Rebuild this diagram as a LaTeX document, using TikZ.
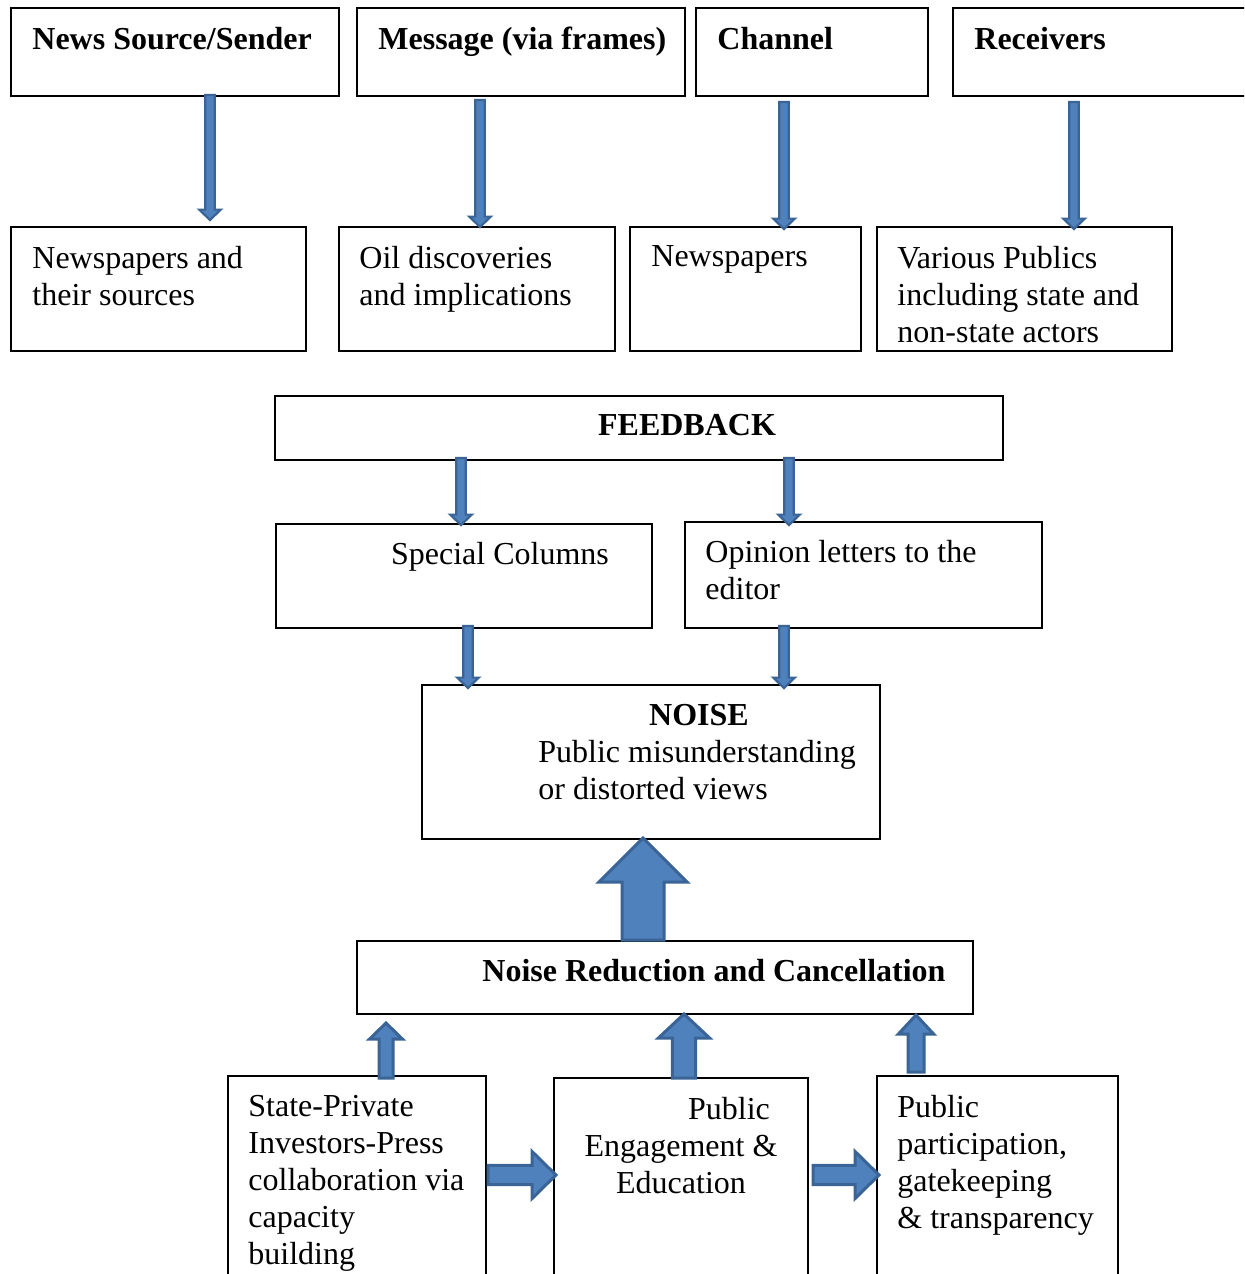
\documentclass[tikz,border=0pt]{standalone}
\usepackage{fontspec}
\setmainfont{Liberation Serif}
\usetikzlibrary{calc,fit}
\definecolor{arrfill}{HTML}{4F81BD}
\definecolor{arrdraw}{HTML}{3A6496}
% #1 extra style, #2 start coordinate, #3 tip coordinate, #4 half shaft, #5 half head, #6 head length
\newcommand{\blockarrow}[6][]{%
  \coordinate (bahead) at ($(#3)!#6!(#2)$);
  \draw[barrow,#1] ($(#2)!#4!90:(#3)$) -- ($(bahead)!#4!90:(#3)$) -- ($(bahead)!#5!90:(#3)$)
    -- (#3) -- ($(bahead)!#5!-90:(#3)$) -- ($(bahead)!#4!-90:(#3)$) -- ($(#2)!#4!-90:(#3)$) -- cycle;
}
\begin{document}
\begin{tikzpicture}[x=0.5pt,y=-0.5pt,
  box/.style={draw, line width=0.75pt, inner sep=0pt},
  txt/.style={inner sep=0pt, anchor=north west, align=left, font=\fontsize{16}{18.5}\selectfont},
  ctxt/.style={inner sep=0pt, anchor=north, align=center, font=\fontsize{16}{18.5}\selectfont},
  barrow/.style={fill=arrfill, draw=arrdraw, line width=1pt, line join=miter},
  thin/.style={line width=1.1pt},
  bigarrow/.style={line width=1.5pt}]
\useasboundingbox (0,0) rectangle (1244,1274);
\clip (0,0) rectangle (1244,1274);
\fill[white] (0,0) rectangle (1244,1274);

% top row
\node[box, fit={(11,8) (339,96)}] (src) {};
\node[box, fit={(357,8) (685,96)}] (msg) {};
\node[box, fit={(696,8) (928,96)}] (chan) {};
\node[box, fit={(953,8) (1260,96)}] (recv) {};
\node[txt, font=\fontsize{16}{18.5}\selectfont\bfseries] (srct) at (32,27) {News Source/Sender};
\node[txt, font=\fontsize{16}{18.5}\selectfont\bfseries] (msgt) at (378,27) {Message (via frames)};
\node[txt, font=\fontsize{16}{18.5}\selectfont\bfseries] (chant) at (717,27) {Channel};
\node[txt, font=\fontsize{16}{18.5}\selectfont\bfseries] (recvt) at (974,27) {Receivers};

% second row
\node[box, fit={(11,227) (306,351)}] (papers) {};
\node[box, fit={(339,227) (615,351)}] (oil) {};
\node[box, fit={(630,227) (861,351)}] (news) {};
\node[box, fit={(877,227) (1172,351)}] (pub) {};
\node[txt] (paperst) at (32,245.5) {Newspapers and\\their sources};
\node[txt] (oilt) at (359,245.5) {Oil discoveries\\and implications};
\node[txt] (newst) at (651,245.5) {Newspapers};
\node[txt] (pubt) at (897,245.5) {Various Publics\\including state and\\non-state actors};

\coordinate (a1s) at (210,95);  \coordinate (a1e) at (210,220);
\coordinate (a2s) at (480,100); \coordinate (a2e) at (480,227);
\coordinate (a3s) at (784,102); \coordinate (a3e) at (784,229);
\coordinate (a4s) at (1074,102); \coordinate (a4e) at (1074,229);
\blockarrow[thin]{a1s}{a1e}{2.4pt}{5.4pt}{5.2pt}
\blockarrow[thin]{a2s}{a2e}{2.4pt}{5.4pt}{5.2pt}
\blockarrow[thin]{a3s}{a3e}{2.4pt}{5.4pt}{5.2pt}
\blockarrow[thin]{a4s}{a4e}{2.4pt}{5.4pt}{5.2pt}

% feedback
\node[box, fit={(275,396) (1003,460)}] (fb) {};
\node[ctxt, font=\fontsize{16}{18.5}\selectfont\bfseries] (fbt) at (687,414) {FEEDBACK};
\node[box, fit={(276,524) (652,628)}] (cols) {};
\node[box, fit={(685,522) (1042,628)}] (ops) {};
\node[ctxt] (colst) at (500,542) {Special Columns};
\node[txt] (opst) at (705,540) {Opinion letters to the\\editor};

\coordinate (f1s) at (461,458); \coordinate (f1e) at (461,525);
\coordinate (f2s) at (789,458); \coordinate (f2e) at (789,525);
\blockarrow[thin]{f1s}{f1e}{2.4pt}{5.4pt}{5.2pt}
\blockarrow[thin]{f2s}{f2e}{2.4pt}{5.4pt}{5.2pt}

% noise
\node[box, fit={(422,685) (880,839)}] (noise) {};
\node[ctxt, font=\fontsize{16}{18.5}\selectfont\bfseries] (noiset) at (699,704) {NOISE};
\node[txt] (noised) at (538,740) {Public misunderstanding\\or distorted views};

\coordinate (s1s) at (468,626); \coordinate (s1e) at (468,688);
\coordinate (s2s) at (784,626); \coordinate (s2e) at (784,688);
\blockarrow[thin]{s1s}{s1e}{2.4pt}{5.4pt}{5.2pt}
\blockarrow[thin]{s2s}{s2e}{2.4pt}{5.4pt}{5.2pt}

% noise reduction
\node[box, fit={(357,941) (973,1014)}] (nr) {};
\node[txt, font=\fontsize{16}{18.5}\selectfont\bfseries] (nrt) at (482,959) {Noise Reduction and Cancellation};

\coordinate (bus) at (643,940); \coordinate (bue) at (643,838);
\blockarrow[bigarrow]{bus}{bue}{10.5pt}{22pt}{22pt}

% bottom row
\node[box, fit={(228,1076) (486,1300)}] (state) {};
\node[box, fit={(554,1078) (808,1300)}] (eng) {};
\node[box, fit={(877,1076) (1118,1300)}] (part) {};
\node[txt] (statet) at (248,1094.5) {State-Private\\Investors-Press\\collaboration via\\capacity\\building};
\node[ctxt] (engt) at (681,1096.5) {\hspace*{48pt}Public\\Engagement \&\\Education};
\node[txt] (partt) at (897,1094.5) {Public\\participation,\\gatekeeping\\\& transparency};

\coordinate (u1s) at (386,1078); \coordinate (u1e) at (386,1023);
\coordinate (u2s) at (684,1078); \coordinate (u2e) at (684,1014);
\coordinate (u3s) at (916,1072); \coordinate (u3e) at (916,1015);
\blockarrow[bigarrow]{u1s}{u1e}{3.5pt}{8.2pt}{8pt}
\blockarrow[bigarrow]{u2s}{u2e}{5.8pt}{12.8pt}{12pt}
\blockarrow[bigarrow]{u3s}{u3e}{4pt}{8.8pt}{9.5pt}

\coordinate (r1s) at (488,1175); \coordinate (r1e) at (556,1175);
\coordinate (r2s) at (813,1175); \coordinate (r2e) at (879,1175);
\blockarrow[bigarrow]{r1s}{r1e}{4.8pt}{11.8pt}{12pt}
\blockarrow[bigarrow]{r2s}{r2e}{4.8pt}{11.8pt}{12pt}
\end{tikzpicture}
\end{document}
